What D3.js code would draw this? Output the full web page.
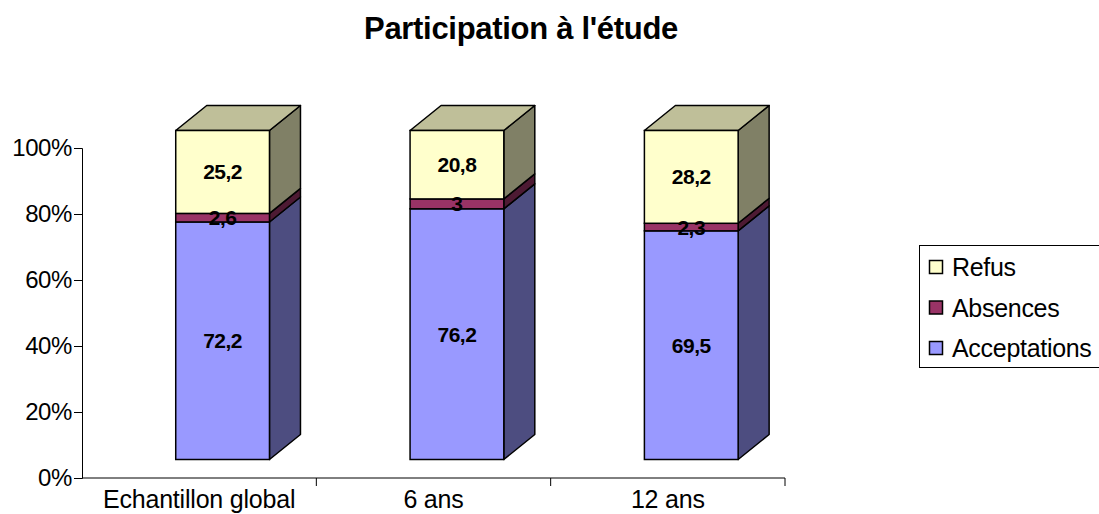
<!DOCTYPE html>
<html>
<head>
<meta charset="utf-8">
<script src="https://cdn.jsdelivr.net/npm/d3@7"></script>
<style>
  html, body { margin: 0; padding: 0; background: #fff; }
  svg { display: block; font-family: "Liberation Sans", Arial, sans-serif; }
</style>
</head>
<body>
<svg id="chart" width="1099" height="514"></svg>
<script>
// ---- data ----
const categories = ["Echantillon global", "6 ans", "12 ans"];
const acceptations = [72.2, 76.2, 69.5];
const absences = [2.6, 3, 2.3];
const refus = [25.2, 20.8, 28.2];
const seriesNames = ["Acceptations", "Absences", "Refus"];
const tickValues = [0, 20, 40, 60, 80, 100];
const tickLabels = ["0%", "20%", "40%", "60%", "80%", "100%"];
const titleText = "Participation à l'étude";

// ---- styles ----
const colors = {
  Acceptations: { front: "#9999FF", side: "#4D4D80", top: "#7373BF" },
  Absences: { front: "#993366", side: "#4D1A33", top: "#73264D" },
  Refus: { front: "#FFFFCC", side: "#808066", top: "#BFBF99" }
};
const seriesValues = { Acceptations: acceptations, Absences: absences, Refus: refus };

const svg = d3.select("#chart");

// scales
const x = d3.scaleBand().domain(categories).range([82, 785]).padding(0);
const y = d3.scaleLinear().domain([0, 100]).range([478, 148]);
const yBar = d3.scaleLinear().domain([0, 100]).range([459.5, 130.5]);
const depthX = 31, depthY = -25;
const barFrac = 0.4;

// title
svg.append("text")
  .attr("x", 521).attr("y", 39)
  .attr("text-anchor", "middle")
  .attr("font-size", 31).attr("font-weight", "bold")
  .attr("fill", "#000")
  .attr("letter-spacing", -0.3)
  .text(titleText);

// y axis
const yAxis = d3.axisLeft(y).tickValues(tickValues)
  .tickFormat((d, i) => tickLabels[i]).tickSize(8).tickPadding(2);
const gy = svg.append("g").attr("transform", "translate(82,0)").call(yAxis);
gy.select(".domain").attr("stroke", "#000").attr("stroke-width", 1);
gy.selectAll(".tick line").attr("stroke", "#000");
gy.selectAll(".tick text").attr("font-size", 24).attr("fill", "#000")
  .attr("font-family", "'Liberation Sans', Arial, sans-serif").attr("letter-spacing", -0.4);

// x axis
const gx = svg.append("g").attr("transform", "translate(0,478)");
gx.append("line").attr("x1", 82).attr("x2", x.range()[1]).attr("y1", 0).attr("y2", 0)
  .attr("stroke", "#000");
categories.forEach(c => {
  const xe = x(c) + x.bandwidth();
  gx.append("line").attr("x1", xe).attr("x2", xe).attr("y1", 0).attr("y2", 8).attr("stroke", "#000");
  gx.append("text")
    .attr("x", x(c) + x.bandwidth() / 2).attr("y", 30)
    .attr("text-anchor", "middle").attr("font-size", 25).attr("fill", "#000")
    .attr("letter-spacing", -0.2)
    .text(c);
});

// bars
const barsG = svg.append("g");
categories.forEach((c, i) => {
  const x0 = x(c) + x.bandwidth() * barFrac;
  const w = x.bandwidth() * barFrac;
  const x1 = x0 + w;
  let cum = 0;
  const segs = seriesNames.map(name => {
    const v = seriesValues[name][i];
    const s = { name, v, y0: cum, y1: cum + v };
    cum += v;
    return s;
  });
  // side faces
  segs.forEach(s => {
    const yb = yBar(s.y0), yt = yBar(s.y1);
    barsG.append("polygon")
      .attr("points", [[x1, yt], [x1 + depthX, yt + depthY], [x1 + depthX, yb + depthY], [x1, yb]].join(" "))
      .attr("fill", colors[s.name].side).attr("stroke", "#000").attr("stroke-width", 1.5)
      .attr("stroke-linejoin", "round");
  });
  // top face
  const last = segs[segs.length - 1];
  const yt = yBar(last.y1);
  barsG.append("polygon")
    .attr("points", [[x0, yt], [x0 + depthX, yt + depthY], [x1 + depthX, yt + depthY], [x1, yt]].join(" "))
    .attr("fill", colors[last.name].top).attr("stroke", "#000").attr("stroke-width", 1.5)
    .attr("stroke-linejoin", "round");
  // front faces
  segs.forEach(s => {
    barsG.append("rect")
      .attr("x", x0).attr("y", yBar(s.y1))
      .attr("width", w).attr("height", yBar(s.y0) - yBar(s.y1))
      .attr("fill", colors[s.name].front).attr("stroke", "#000").attr("stroke-width", 1.5);
  });
  // labels
  segs.forEach(s => {
    barsG.append("text")
      .attr("x", x0 + w / 2).attr("y", (yBar(s.y0) + yBar(s.y1)) / 2)
      .attr("text-anchor", "middle").attr("dominant-baseline", "central")
      .attr("font-size", 21).attr("font-weight", "bold").attr("fill", "#000")
      .attr("letter-spacing", -0.5)
      .text(String(s.v).replace(".", ","));
  });
});

// legend
const legend = svg.append("g");
legend.append("rect").attr("x", 919.5).attr("y", 245.5).attr("width", 200).attr("height", 122)
  .attr("fill", "#fff").attr("stroke", "#000").attr("stroke-width", 1);
const legendOrder = ["Refus", "Absences", "Acceptations"];
const legendY = d3.scalePoint().domain(legendOrder).range([267, 348]);
legendOrder.forEach(name => {
  const cy = legendY(name);
  legend.append("rect").attr("x", 929.5).attr("y", cy - 6.5).attr("width", 13).attr("height", 13)
    .attr("fill", colors[name].front).attr("stroke", "#000").attr("stroke-width", 1.5);
  legend.append("text").attr("x", 952).attr("y", cy)
    .attr("dominant-baseline", "central").attr("font-size", 25).attr("fill", "#000")
    .attr("letter-spacing", -0.3)
    .text(name);
});
</script>
</body>
</html>
